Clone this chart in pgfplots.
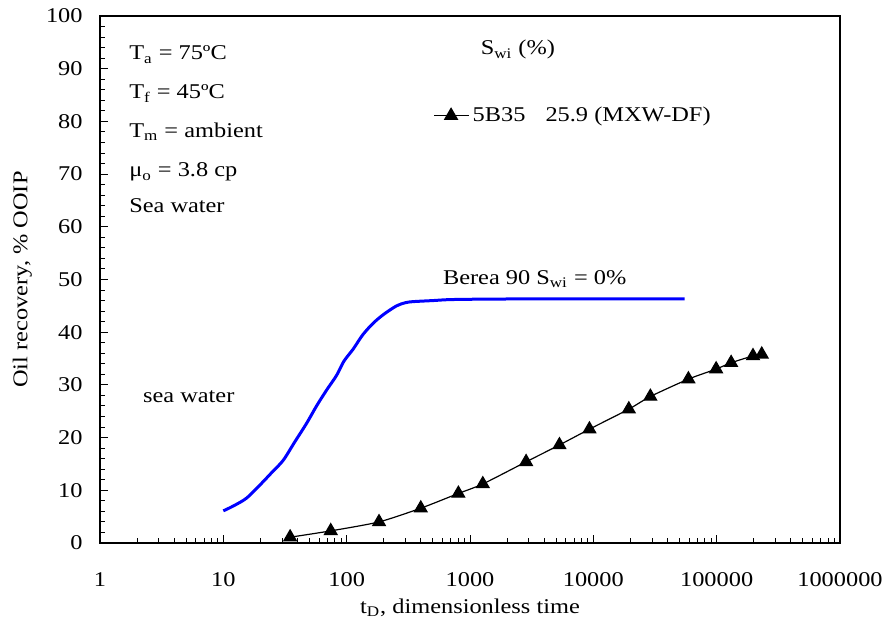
\documentclass[border=0pt]{standalone}
\usepackage{fontspec}
\setmainfont{Liberation Serif}[FakeStretch=1.16]
\usepackage{pgfplots}
\pgfplotsset{compat=1.18}
\definecolor{pureblue}{RGB}{0,0,255}
\begin{document}
\fontsize{10.5}{12.6}\selectfont
\begin{tikzpicture}
\useasboundingbox (-50pt,-44pt) rectangle (394.5pt,271.5pt);
\begin{axis}[
  scale only axis, width=370pt, height=263.5pt,
  xmode=log, xmin=1, xmax=1e6, ymin=0, ymax=100,
  xtick={1,10,100,1000,10000,100000,1000000},
  xticklabels={1,10,100,1000,10000,100000,1000000},
  ytick={0,10,...,100}, minor y tick num=4,
  tick align=inside, xtick pos=bottom, ytick pos=left,
  major tick length=4pt, minor tick length=2.5pt,
  axis line style={line width=0.7pt},
  every tick/.style={black, line width=0.5pt},
  /pgf/number format/assume math mode=true,
  xticklabel style={yshift=-11pt},
  yticklabel style={xshift=-5pt},
  xlabel={t\textsubscript{D}, dimensionless time},
  ylabel={Oil recovery, \% OOIP},
  xlabel style={at={(axis description cs:0.5,-0.123)}, anchor=center},
  ylabel style={at={(axis description cs:-0.105,0.5)}, anchor=center},
  legend style={at={(axis description cs:0.45,0.811)}, anchor=west, draw=none, fill=none, inner xsep=0pt, inner ysep=0pt},
  legend cell align=left,
  clip=false,
]
\addplot[pureblue, line width=1.5pt, smooth, forget plot] coordinates {
 (10,6.1) (12,7.0) (15.4,8.5) (19.8,11.0) (25,13.5) (30.6,15.7) (38,19.2)
 (47.3,22.7) (57,26.0) (68.7,29.0) (82.8,31.8) (95,34.5) (113,36.8) (135,39.5)
 (164,41.7) (200,43.4) (254,45.0) (300,45.6) (346,45.8) (500,46.0) (730,46.2)
 (2000,46.3) (10000,46.3) (55000,46.3)};
\addplot[black, line width=0.6pt, smooth, tension=0.4, mark=triangle*, mark size=3.6pt,
  mark options={solid, fill=black}] coordinates {
 (34.8,1.1) (74.3,2.3) (183,4.0) (399,6.6) (805,9.4) (1270,11.2) (2850,15.4)
 (5310,18.6) (9300,21.6) (19400,25.4) (29000,27.8) (59000,31.1) (99000,33.0)
 (131000,34.2) (197000,35.5) (232000,35.8)};
\addlegendentry{5B35\hspace{10pt}25.9 (MXW-DF)}
\node[anchor=base west, inner sep=0pt] at (axis description cs:0.039,0.9165) {T\textsubscript{a} = 75ºC};
\node[anchor=base west, inner sep=0pt] at (axis description cs:0.039,0.8425) {T\textsubscript{f} = 45ºC};
\node[anchor=base west, inner sep=0pt] at (axis description cs:0.039,0.770) {T\textsubscript{m} = ambient};
\node[anchor=base west, inner sep=0pt] at (axis description cs:0.039,0.695) {μ\textsubscript{o} = 3.8 cp};
\node[anchor=base west, inner sep=0pt] at (axis description cs:0.039,0.627) {Sea water};
\node[anchor=base west, inner sep=0pt] at (axis description cs:0.514,0.926) {S\textsubscript{wi} (\%)};
\node[anchor=base west, inner sep=0pt] at (axis description cs:0.463,0.491) {Berea 90 S\textsubscript{wi} = 0\%};
\node[anchor=base west, inner sep=0pt] at (axis description cs:0.0577,0.267) {sea water};
\end{axis}
\end{tikzpicture}
\end{document}
